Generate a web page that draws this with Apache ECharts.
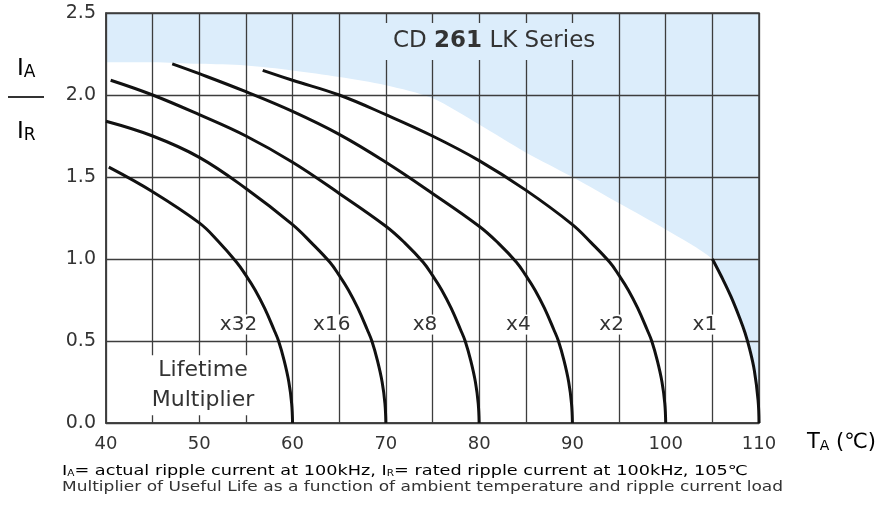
<!DOCTYPE html>
<html>
<head>
<meta charset="utf-8">
<script src="https://cdn.jsdelivr.net/npm/echarts@6/dist/echarts.min.js"></script>
<style>
html, body { margin: 0; padding: 0; background: #fff; }
#chart { width: 883px; height: 509px; }
</style>
</head>
<body>
<div id="chart"></div>
<script>
// curve readings: [ambient temp, Ia/Ir]
var curveX32 = [[40.3,1.56],[45,1.41],[50,1.22],[52,1.11],[54,0.98],[55,0.9],[56,0.81],[57,0.7],[58,0.57],[58.5,0.5],[59.1,0.38],[59.6,0.25],[59.9,0.12],[60,0]];
var curveX16 = [[40,1.84],[45,1.75],[50,1.62],[55,1.43],[60,1.21],[62,1.1],[64,0.98],[65,0.9],[66,0.81],[67,0.7],[68,0.57],[68.5,0.5],[69.1,0.38],[69.6,0.25],[69.9,0.12],[70,0]];
var curveX8 = [[40.5,2.09],[45,2.0],[50,1.88],[55,1.75],[60,1.59],[65,1.4],[70,1.2],[72,1.1],[74,0.98],[75,0.9],[76,0.81],[77,0.7],[78,0.57],[78.5,0.5],[79.1,0.38],[79.6,0.25],[79.9,0.12],[80,0]];
var curveX4 = [[47.1,2.19],[50,2.13],[55,2.02],[60,1.9],[65,1.76],[70,1.59],[75,1.4],[80,1.2],[82,1.1],[84,0.98],[85,0.9],[86,0.81],[87,0.7],[88,0.57],[88.5,0.5],[89.1,0.38],[89.6,0.25],[89.9,0.12],[90,0]];
var curveX2 = [[56.8,2.15],[60,2.09],[65,2.0],[70,1.88],[75,1.75],[80,1.6],[85,1.42],[90,1.21],[92,1.1],[94,0.98],[95,0.9],[96,0.81],[97,0.7],[98,0.57],[98.5,0.5],[99.1,0.38],[99.6,0.25],[99.9,0.12],[100,0]];
var curveX1 = [[105,1.0],[106,0.89],[107,0.77],[108,0.63],[108.5,0.55],[109,0.45],[109.5,0.32],[109.9,0.14],[110,0]];
var limitLine = [[40,2.2],[45,2.2],[50,2.19],[55,2.18],[60,2.15],[65,2.11],[70,2.06],[75,1.98],[80,1.82],[85,1.65],[90,1.5],[95,1.34],[100,1.18]].concat(curveX1);

var curveNames = ['x32', 'x16', 'x8', 'x4', 'x2', 'x1'];
var curves = [curveX32, curveX16, curveX8, curveX4, curveX2, curveX1];
var xMin = 40, xMax = 110, xStep = 5;
var yMin = 0, yMax = 2.5, yStep = 0.5;

var font = '"DejaVu Sans", sans-serif';
var textColor = '#333';
var lineColor = '#3d3d3d';
var blue = '#dcedfb';

var chart = echarts.init(document.getElementById('chart'));

var series = [{
    name: 'limit',
    type: 'line',
    data: limitLine,
    symbol: 'none',
    smooth: 0.3,
    z: -1,
    silent: true,
    lineStyle: { width: 0 },
    areaStyle: { color: blue, opacity: 1, origin: 'end' }
}];

curves.forEach(function (c, i) {
    series.push({
        name: curveNames[i],
        type: 'line',
        data: c,
        symbol: 'none',
        smooth: 0.4,
        lineStyle: { color: '#111', width: 3 }
    });
});

// labels sit just left of where each curve meets the axis
var labelData = curves.map(function (c, i) {
    var end = c[c.length - 1][0];
    return { value: [end - 5.8, 0.6], name: curveNames[i] };
});

series.push({
    type: 'scatter',
    data: labelData,
    symbolSize: 0,
    silent: true,
    z: 5,
    itemStyle: { opacity: 1 },
    label: {
        show: true,
        position: 'inside',
        formatter: function (p) { return p.name; },
        fontFamily: font,
        fontSize: 20,
        color: textColor,
        backgroundColor: '#fff',
        padding: [0, 2]
    }
});

series.push({
    type: 'scatter',
    data: [{ value: [50.4, 0.23], name: 'Lifetime\nMultiplier' }],
    symbolSize: 0,
    silent: true,
    z: 5,
    itemStyle: { opacity: 1 },
    label: {
        show: true,
        position: 'inside',
        formatter: function (p) { return p.name; },
        fontFamily: font,
        fontSize: 22,
        lineHeight: 30,
        color: textColor,
        backgroundColor: '#fff',
        padding: [0, 3]
    }
});

var sub = function (size) {
    return { fontFamily: font, fontSize: size, color: textColor, verticalAlign: 'bottom' };
};

option = {
    animation: false,
    backgroundColor: '#fff',
    title: {
        text: '{a|CD }{b|261}{a| LK Series}',
        left: 376,
        top: 23,
        padding: [7, 17],
        backgroundColor: blue,
        textStyle: {
            fontWeight: 'normal',
            rich: {
                a: { fontFamily: font, fontSize: 23, color: '#333', fontWeight: 'normal' },
                b: { fontFamily: font, fontSize: 23, color: '#333', fontWeight: 'bold' }
            }
        }
    },
    grid: {
        left: 106, right: 124, top: 13, bottom: 86,
        show: true,
        borderColor: lineColor,
        borderWidth: 1.5,
        backgroundColor: 'transparent'
    },
    xAxis: {
        type: 'value',
        min: xMin, max: xMax, interval: xStep,
        axisLine: { show: true, lineStyle: { color: lineColor, width: 1.5 } },
        axisTick: { show: false },
        splitLine: { show: true, lineStyle: { color: lineColor, width: 1.3 } },
        axisLabel: {
            margin: 12,
            fontFamily: font, fontSize: 18, color: textColor,
            formatter: function (v) { return v % 10 === 0 ? String(v) : ''; }
        }
    },
    yAxis: {
        type: 'value',
        min: yMin, max: yMax, interval: yStep,
        axisLine: { show: true, lineStyle: { color: lineColor, width: 1.5 } },
        axisTick: { show: false },
        splitLine: { show: true, lineStyle: { color: lineColor, width: 1.3 } },
        axisLabel: {
            margin: 10,
            fontFamily: font, fontSize: 19, color: textColor,
            formatter: function (v) { return v.toFixed(1); }
        }
    },
    graphic: [
        {
            type: 'text', left: 17, top: 58,
            style: { text: '{m|I}{s|A}', rich: { m: sub(23), s: sub(17) } }
        },
        {
            type: 'line',
            shape: { x1: 8, y1: 97, x2: 44, y2: 97 },
            style: { stroke: textColor, lineWidth: 2 }
        },
        {
            type: 'text', left: 17, top: 121,
            style: { text: '{m|I}{s|R}', rich: { m: sub(23), s: sub(17) } }
        },
        {
            type: 'text', left: 807, top: 432,
            style: { text: '{m|T}{s|A}{m| (℃)}', rich: { m: sub(21), s: sub(14) } }
        },
        {
            type: 'text', left: 62, top: 464, scaleX: 1.31,
            style: {
                text: '{m|I}{s|A}{m|= actual ripple current at 100kHz, I}{s|R}{m|= rated ripple current at 100kHz, 105℃}',
                rich: { m: sub(13.5), s: sub(8) }
            }
        },
        {
            type: 'text', left: 62, top: 480, scaleX: 1.26,
            style: {
                text: 'Multiplier of Useful Life as a function of ambient temperature and ripple current load',
                fontFamily: font, fontSize: 13.5, fill: textColor
            }
        }
    ],
    series: series
};

chart.setOption(option, true);
</script>
</body>
</html>
